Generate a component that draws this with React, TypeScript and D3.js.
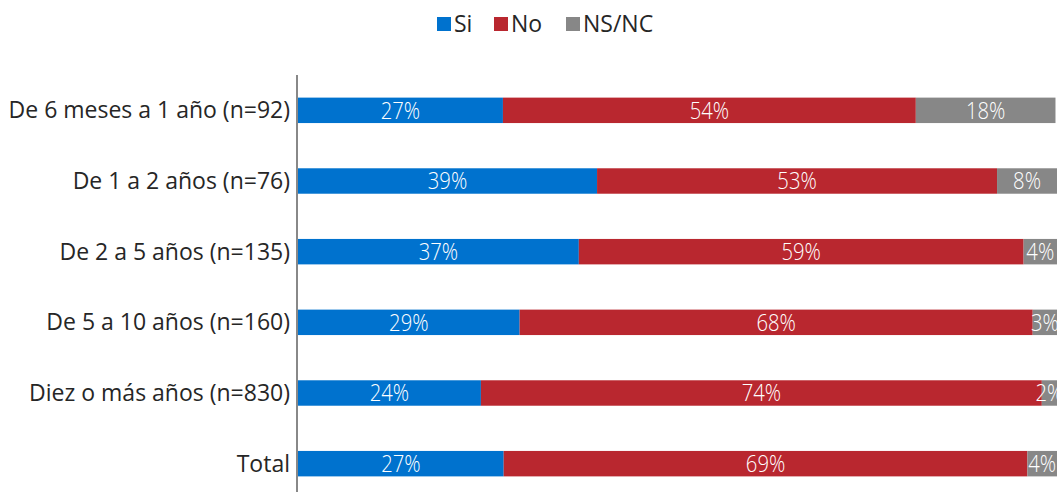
import React from "react";
import * as d3 from "d3";

const categories = [
  "De 6 meses a 1 año (n=92)",
  "De 1 a 2 años (n=76)",
  "De 2 a 5 años (n=135)",
  "De 5 a 10 años (n=160)",
  "Diez o más años (n=830)",
  "Total",
];
const seriesNames = ["Si", "No", "NS/NC"];
const siValues = [27.0, 39.4, 37.0, 29.2, 24.1, 27.1];
const noValues = [54.4, 52.7, 58.6, 67.6, 73.9, 69.0];
const nsValues = [18.4, 7.9, 4.4, 3.2, 2.0, 3.9];
const colors = ["#0072ce", "#b9272f", "#878787"];

const W = 1060;
const H = 492;
const left = 298;
const right = 1057;
const FONT = "'Open Sans', sans-serif";

export default function App() {
  const series = [siValues, noValues, nsValues];
  const x = d3.scaleLinear().domain([0, 100]).range([left, right]);
  const y = d3.scaleBand().domain(categories).range([75, 499]).paddingInner(0.64).paddingOuter(0.32);
  const rows = categories.map((c, i) => {
    let acc = 0;
    return series.map((s, k) => {
      const v = s[i];
      const seg = { k, x0: acc, x1: acc + v, v };
      acc += v;
      return seg;
    });
  });
  const legendItems = [
    { name: seriesNames[0], x: 437 },
    { name: seriesNames[1], x: 494 },
    { name: seriesNames[2], x: 566 },
  ];
  return (
    <svg width={W} height={H} style={{ position: "absolute", left: 0, top: 0 }} fontFamily={FONT}>
      <rect width={W} height={H} fill="#fff" />
      {legendItems.map((l, k) => (
        <g key={l.name}>
          <rect x={l.x} y={17} width={14} height={14} fill={colors[k]} />
          <text x={l.x + 17} y={32} fontSize={23} fill="#262626">{l.name}</text>
        </g>
      ))}
      {categories.map((c, i) => (
        <g key={c}>
          <text x={290} y={(y(c) as number) + y.bandwidth() / 2} dy="0.35em" textAnchor="end" fontSize={23} fill="#262626">
            {c}
          </text>
          {rows[i].map((s) => {
            const cx = (x(s.x0) + x(s.x1)) / 2;
            const cy = (y(c) as number) + y.bandwidth() / 2;
            return (
              <g key={s.k}>
                <rect
                  x={x(s.x0)}
                  y={y(c)}
                  width={x(s.x1) - x(s.x0)}
                  height={y.bandwidth()}
                  fill={colors[s.k]}
                />
                <text
                  transform={`translate(${cx},${cy}) scale(0.88,1)`}
                  dy="0.36em"
                  textAnchor="middle"
                  fontSize={23}
                  fontWeight={300}
                  fill="#fff"
                >
                  {Math.round(s.v) + "%"}
                </text>
              </g>
            );
          })}
        </g>
      ))}
      <line x1={297} x2={297} y1={75} y2={H} stroke="#888" strokeWidth={2} />
    </svg>
  );
}
